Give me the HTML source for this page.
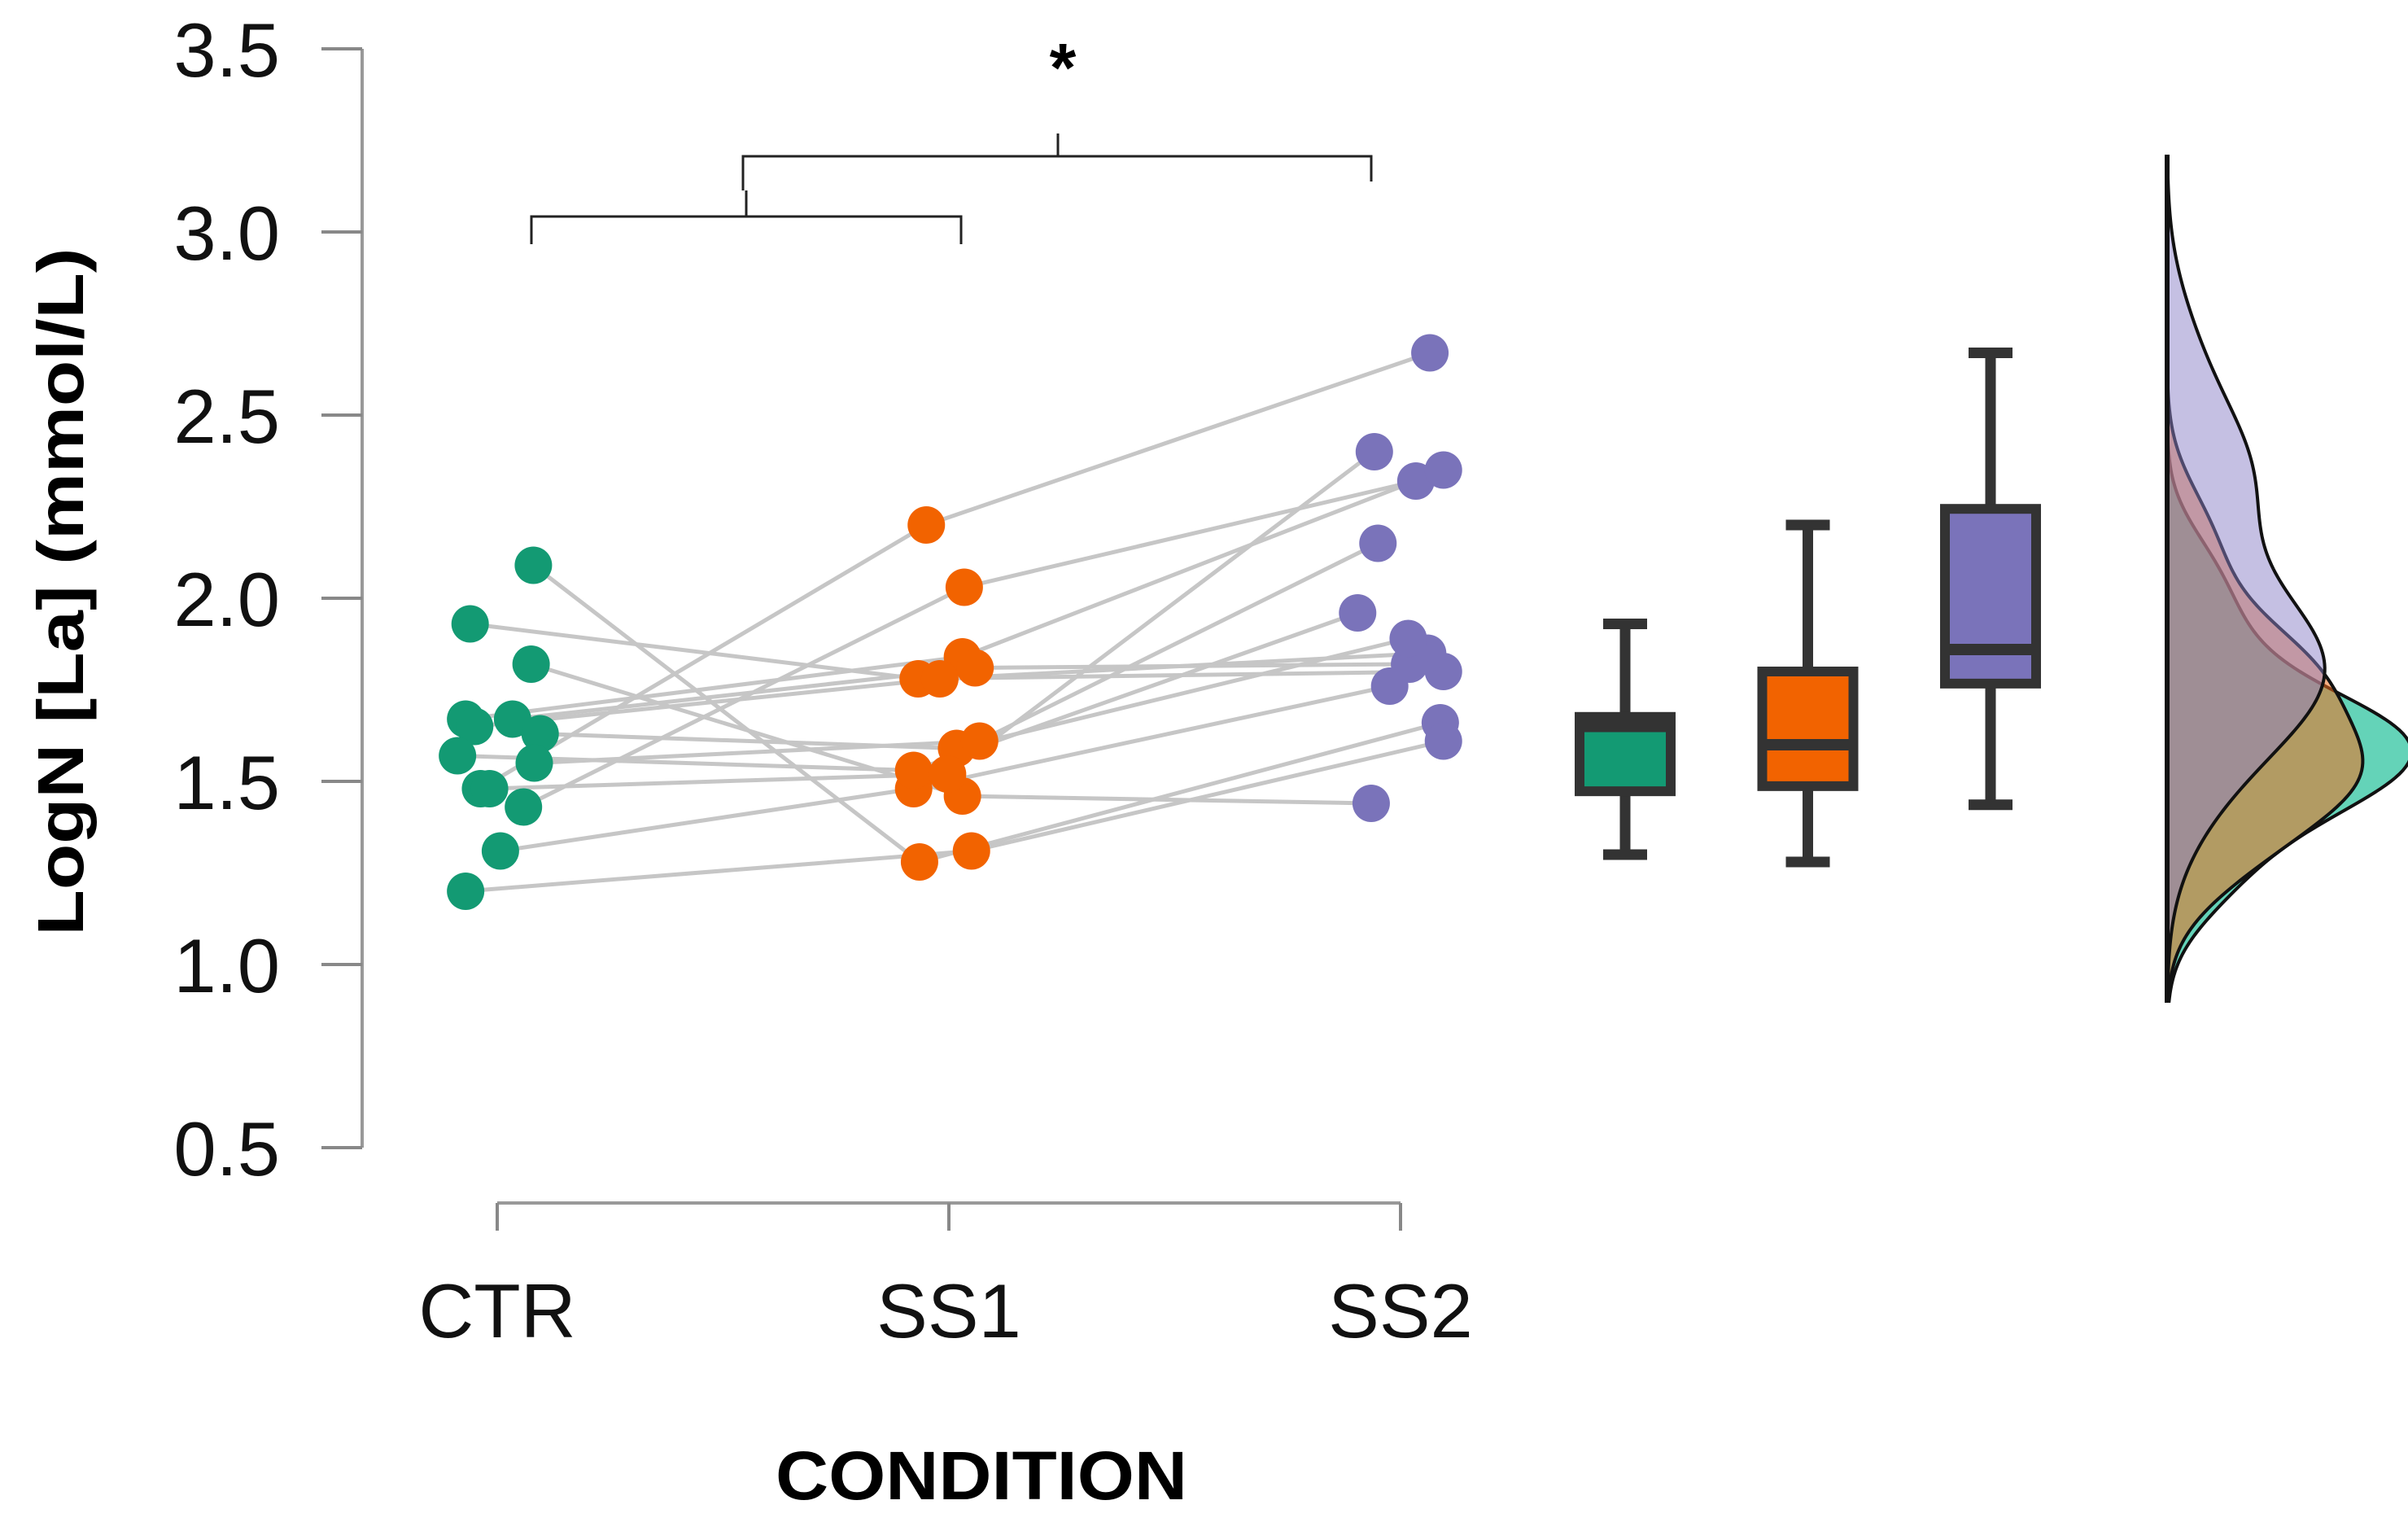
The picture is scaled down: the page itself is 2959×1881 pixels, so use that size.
<!DOCTYPE html>
<html><head><meta charset="utf-8"><style>
html,body{margin:0;padding:0;background:#fff;}
svg{display:block;}
text{font-family:"Liberation Sans",Arial,sans-serif;}
</style></head><body>
<svg id="chart" width="2959" height="1881" viewBox="0 0 2959 1881" xmlns="http://www.w3.org/2000/svg">
<g id="axes"></g>
<g id="lines"></g>
<g id="points"></g>
<g id="boxes"></g>
<g id="dens"></g>
<g id="sig">
<path d="M653 300 V266 H1181 V300 M917 266 V234 M913 234 V192 H1685 V223 M1300 192 V164" fill="none" stroke="#222" stroke-width="3"/>
<text x="1306" y="112" font-size="84" font-weight="bold" text-anchor="middle">*</text>
</g>
<text x="1206" y="1842" font-size="84" font-weight="bold" text-anchor="middle" textLength="506" lengthAdjust="spacingAndGlyphs">CONDITION</text>
<text transform="translate(102,727) rotate(-90)" font-size="80" font-weight="bold" text-anchor="middle" textLength="845" lengthAdjust="spacingAndGlyphs">LogN [La] (mmol/L)</text>
</svg>
<script>
const categories = ["CTR","SS1","SS2"];
const yTicks = [0.5,1.0,1.5,2.0,2.5,3.0,3.5];
const ctrValues = [2.09,1.93,1.82,1.20,1.31,1.48,1.43,1.67,1.65,1.67,1.63,1.57,1.55,1.48];
const ss1Values = [1.28,1.78,1.46,1.31,1.48,2.20,2.03,1.84,1.78,1.81,1.59,1.53,1.61,1.52];
const ss2Values = [1.66,1.80,1.44,1.61,1.76,2.67,2.32,2.35,1.85,1.82,1.89,1.96,2.15,2.40];
const ctrJitter = [0.08,-0.06,0.075,-0.07,0.007,-0.037,0.058,-0.07,-0.05,0.034,0.095,-0.088,0.082,-0.017];
const ss1Jitter = [-0.065,-0.068,0.03,0.05,-0.078,-0.05,0.034,0.03,-0.02,0.058,0.017,-0.078,0.068,-0.003];
const ss2Jitter = [0.088,0.095,-0.065,0.095,-0.024,0.065,0.034,0.095,0.06,0.02,0.017,-0.095,-0.05,-0.058];
const boxQ1 = [1.473,1.487,1.767];
const boxMedian = [1.65,1.60,1.86];
const boxQ3 = [1.676,1.80,2.244];
const whiskerLow = [1.30,1.28,1.436];
const whiskerHigh = [1.93,2.20,2.67];

const NS="http://www.w3.org/2000/svg";
const colors=["#139a73","#f26300","#7a73ba"];
const densFill=["rgba(27,190,150,0.68)","rgba(242,110,30,0.55)","rgba(140,130,200,0.5)"];
function y(v){return 60+(3.5-v)*450;}
function xc(i){return 611+i*555;}
function xb(i){return 1997+i*224.5;}
function mk(tag,attrs,parent){const e=document.createElementNS(NS,tag);for(const k in attrs)e.setAttribute(k,attrs[k]);parent.appendChild(e);return e;}
const axes=document.getElementById('axes');
let l=mk('line',{x1:445,x2:445,y1:y(3.5),y2:y(0.5),stroke:'#999','stroke-width':4},axes);


yTicks.forEach(t=>{
 const tk=mk('line',{x1:395,x2:445,y1:y(t),y2:y(t),stroke:'#888','stroke-width':4},axes);
 
 
 const tx=mk('text',{x:344,y:y(t)+34,'font-size':94,'text-anchor':'end',fill:'#111'},axes);
 tx.textContent=t.toFixed(1);
 
 
});
l=mk('line',{x1:xc(0),x2:xc(2),y1:1478,y2:1478,stroke:'#999','stroke-width':4},axes);


categories.forEach((c,i)=>{
 const tk=mk('line',{x1:xc(i),x2:xc(i),y1:1478,y2:1512,stroke:'#888','stroke-width':4},axes);
 
 
 const tx=mk('text',{x:xc(i),y:1643,'font-size':94,'text-anchor':'middle',fill:'#111'},axes);
 tx.textContent=c;
 
 
});
const series=[ctrValues,ss1Values,ss2Values];
const jit=[ctrJitter,ss1Jitter,ss2Jitter];
const lg=document.getElementById('lines');
for(let p=0;p<ctrValues.length;p++){
 for(let s=0;s<2;s++){
  const ln=mk('line',{x1:xc(s)+jit[s][p]*555,y1:y(series[s][p]),x2:xc(s+1)+jit[s+1][p]*555,y2:y(series[s+1][p]),stroke:'#c6c6c6','stroke-width':5},lg);
  
  
 }
}
const pg=document.getElementById('points');
series.forEach((arr,s)=>arr.forEach((v,p)=>{
 const c=mk('circle',{cx:xc(s)+jit[s][p]*555,cy:y(v),r:23,fill:colors[s]},pg);
 
 
}));
const bg=document.getElementById('boxes');
for(let i=0;i<3;i++){
 const x=xb(i),w=112;
 const wl=mk('line',{x1:x,x2:x,y1:y(whiskerHigh[i]),y2:y(whiskerLow[i]),stroke:'#333','stroke-width':13},bg);
 
 
 [whiskerHigh[i],whiskerLow[i]].forEach(v=>{
  const cap=mk('line',{x1:x-27,x2:x+27,y1:y(v),y2:y(v),stroke:'#333','stroke-width':13},bg);
  
  
 });
 const r=mk('rect',{x:x-w/2,y:y(boxQ3[i]),width:w,height:y(boxQ1[i])-y(boxQ3[i]),fill:colors[i],stroke:'#333','stroke-width':12},bg);
 
 
 const m=mk('line',{x1:x-w/2,x2:x+w/2,y1:y(boxMedian[i]),y2:y(boxMedian[i]),stroke:'#333','stroke-width':14},bg);
 
 
}
const dg=document.getElementById('dens');
const baseX=2663;
function kde(arr,v){const n=arr.length;const mean=arr.reduce((a,b)=>a+b,0)/n;const sd=Math.sqrt(arr.reduce((a,b)=>a+(b-mean)**2,0)/(n-1));const h=0.9*sd*Math.pow(n,-0.2);let s=0;arr.forEach(a=>{s+=Math.exp(-0.5*((v-a)/h)**2);});return s/(n*h*Math.sqrt(2*Math.PI));}
series.forEach((arr,s)=>{
 let d=`M${baseX} ${y(0.9)}`;
 for(let v=0.9;v<=3.2001;v+=0.01){d+=` L${baseX+kde(arr,v)*175} ${y(v)}`;}
 d+=` L${baseX} ${y(3.2)} Z`;
 const p=mk('path',{d:d,fill:densFill[s],stroke:'#111','stroke-width':4},dg);
 
 
});
l=mk('line',{x1:baseX,x2:baseX,y1:190,y2:1232,stroke:'#111','stroke-width':6},dg);


</script>
</body></html>
